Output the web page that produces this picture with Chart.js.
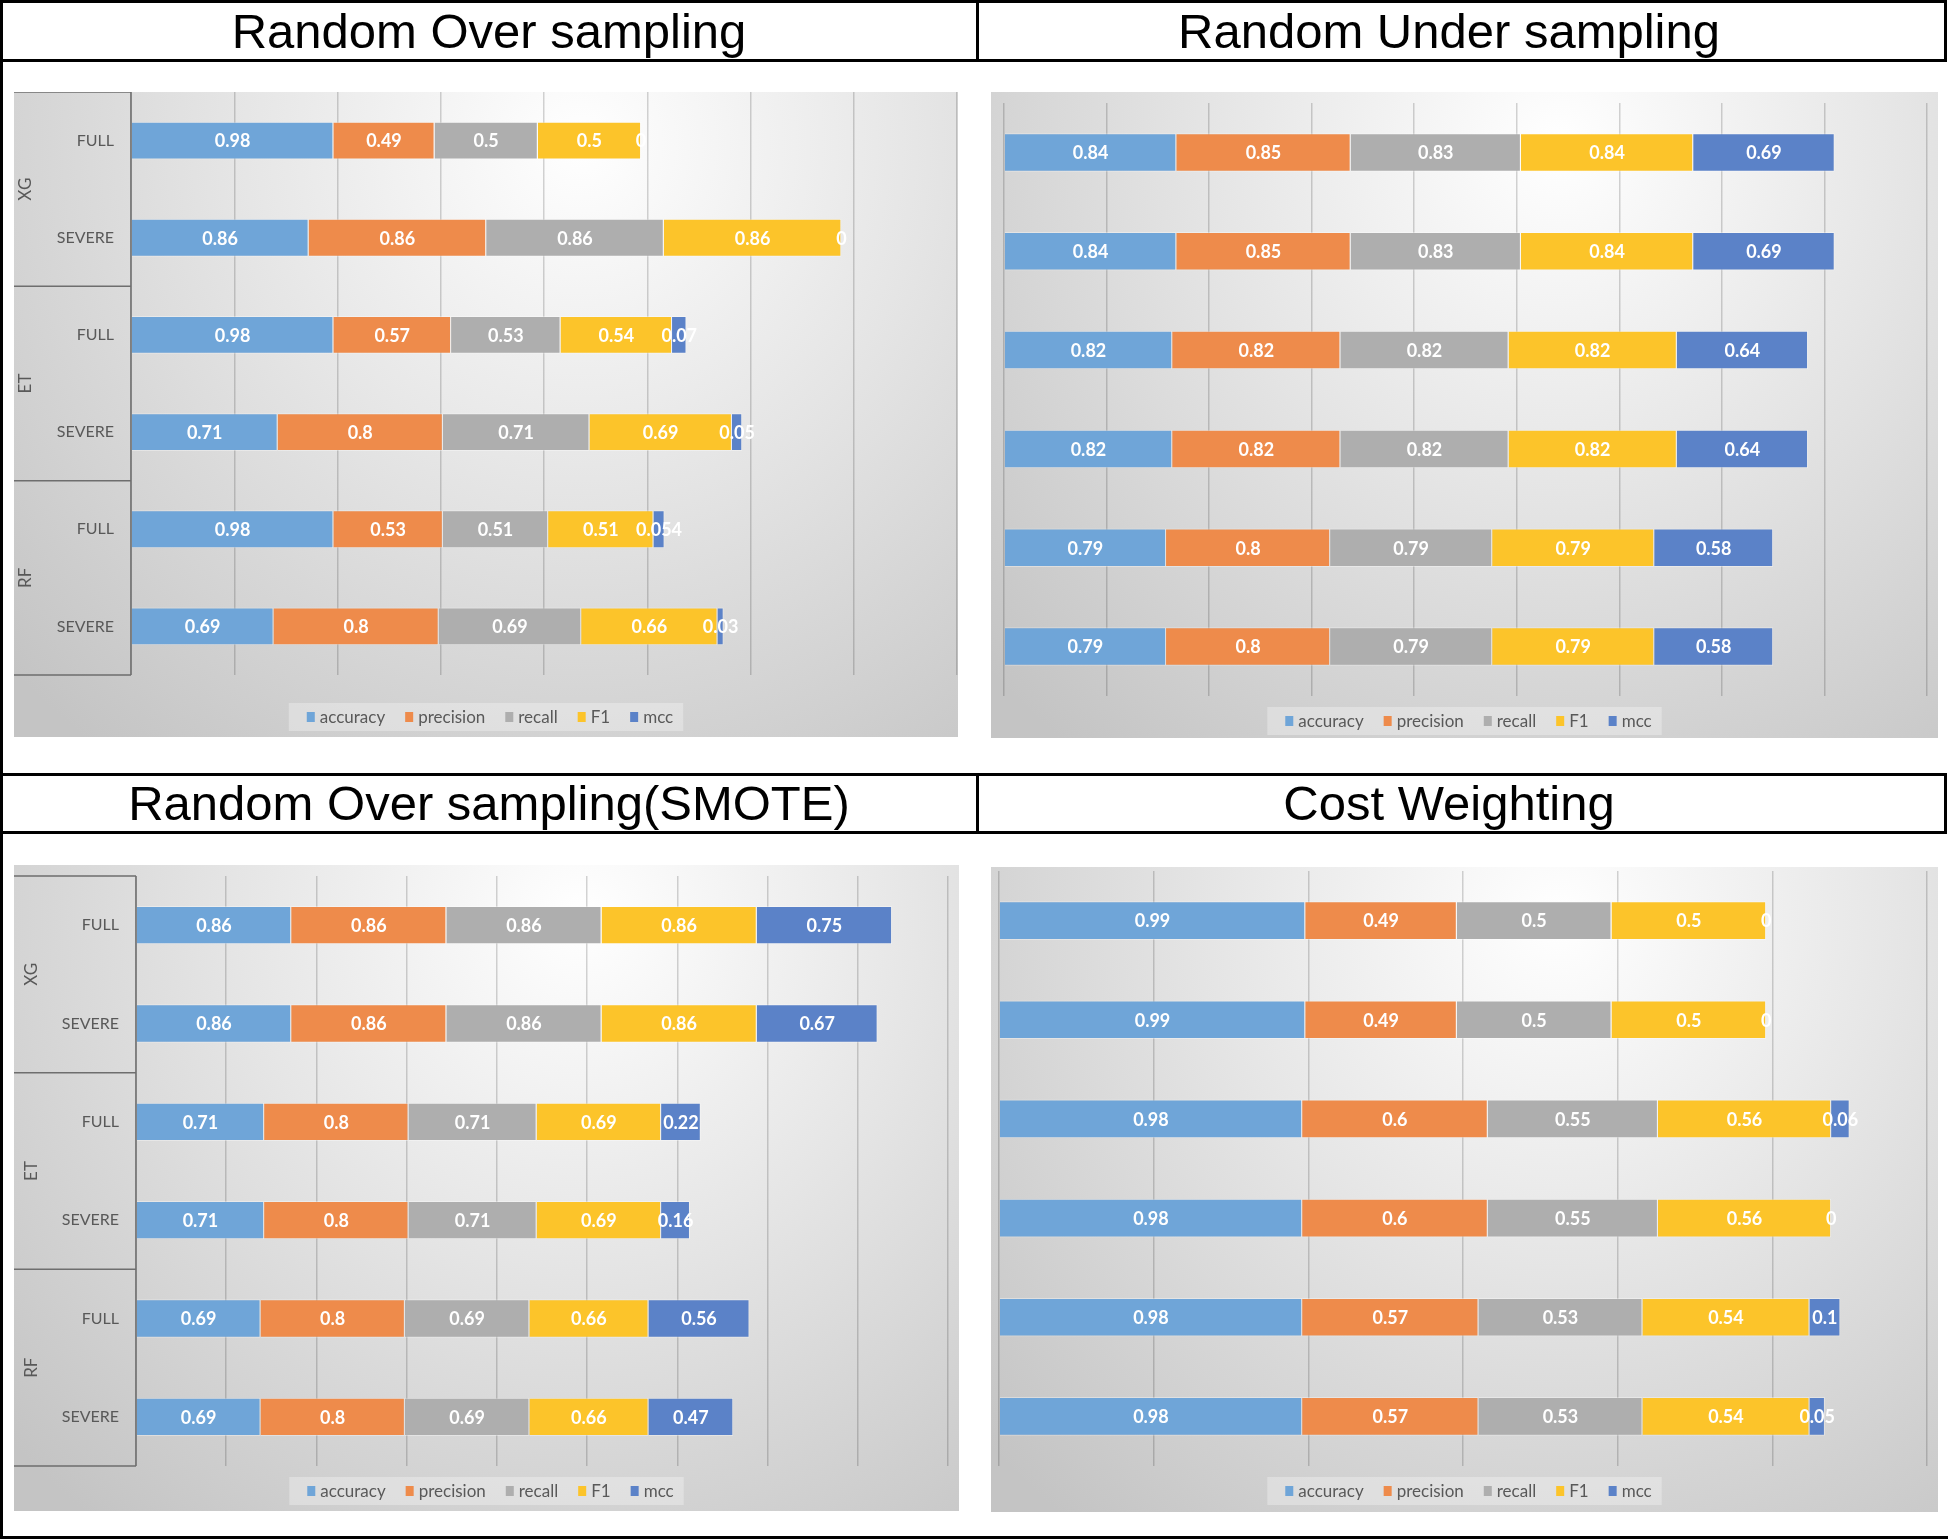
<!DOCTYPE html>
<html>
<head>
<meta charset="utf-8">
<title>Sampling comparison</title>
<script src="https://cdn.jsdelivr.net/npm/chart.js@4.4.0/dist/chart.umd.min.js"></script>
<style>
  html, body { margin: 0; padding: 0; background: #fff; }
  body { width: 1952px; height: 1540px; position: relative; overflow: hidden; }
  .line { position: absolute; background: #000; }
  .title { position: absolute; font-family: 'Liberation Sans', Arial, sans-serif; font-size: 49px;
           color: #000; text-align: center; white-space: nowrap; }
  canvas { position: absolute; }
</style>
</head>
<body>

<!-- table frame -->
<div class="line" style="left:0;top:0;width:1947px;height:3px"></div>
<div class="line" style="left:0;top:59px;width:1947px;height:3px"></div>
<div class="line" style="left:0;top:773px;width:1947px;height:3px"></div>
<div class="line" style="left:0;top:831px;width:1947px;height:3px"></div>
<div class="line" style="left:0;top:1536px;width:1948px;height:3px"></div>
<div class="line" style="left:0;top:0;width:3px;height:1539px"></div>
<div class="line" style="left:976px;top:0;width:3px;height:62px"></div>
<div class="line" style="left:976px;top:773px;width:3px;height:61px"></div>
<div class="line" style="left:1944px;top:0;width:3px;height:62px"></div>
<div class="line" style="left:1944px;top:773px;width:3px;height:61px"></div>

<div class="title" style="left:0;width:978px;top:2px;height:58px;line-height:58px">Random Over sampling</div>
<div class="title" style="left:977px;width:944px;top:2px;height:58px;line-height:58px">Random Under sampling</div>
<div class="title" style="left:0;width:978px;top:775px;height:57px;line-height:57px">Random Over sampling(SMOTE)</div>
<div class="title" style="left:977px;width:944px;top:775px;height:57px;line-height:57px">Cost Weighting</div>

<canvas id="overChart" width="944" height="645" style="left:14px;top:92px"></canvas>
<canvas id="underChart" width="947" height="646" style="left:991px;top:92px"></canvas>
<canvas id="smoteChart" width="945" height="646" style="left:14px;top:865px"></canvas>
<canvas id="costChart" width="947" height="645" style="left:991px;top:867px"></canvas>

<script>
// categories (top to bottom) and their model groups
const categories = ["FULL", "SEVERE", "FULL", "SEVERE", "FULL", "SEVERE"];
const groups = ["XG", "ET", "RF"];
const metrics = ["accuracy", "precision", "recall", "F1", "mcc"];

// Random Over sampling
const overAccuracy  = [0.98, 0.86, 0.98, 0.71, 0.98, 0.69];
const overPrecision = [0.49, 0.86, 0.57, 0.8, 0.53, 0.8];
const overRecall    = [0.5, 0.86, 0.53, 0.71, 0.51, 0.69];
const overF1        = [0.5, 0.86, 0.54, 0.69, 0.51, 0.66];
const overMcc       = [0, 0, 0.07, 0.05, 0.054, 0.03];

// Random Under sampling
const underAccuracy  = [0.84, 0.84, 0.82, 0.82, 0.79, 0.79];
const underPrecision = [0.85, 0.85, 0.82, 0.82, 0.8, 0.8];
const underRecall    = [0.83, 0.83, 0.82, 0.82, 0.79, 0.79];
const underF1        = [0.84, 0.84, 0.82, 0.82, 0.79, 0.79];
const underMcc       = [0.69, 0.69, 0.64, 0.64, 0.58, 0.58];

// Random Over sampling (SMOTE)
const smoteAccuracy  = [0.86, 0.86, 0.71, 0.71, 0.69, 0.69];
const smotePrecision = [0.86, 0.86, 0.8, 0.8, 0.8, 0.8];
const smoteRecall    = [0.86, 0.86, 0.71, 0.71, 0.69, 0.69];
const smoteF1        = [0.86, 0.86, 0.69, 0.69, 0.66, 0.66];
const smoteMcc       = [0.75, 0.67, 0.22, 0.16, 0.56, 0.47];

// Cost Weighting
const costAccuracy  = [0.99, 0.99, 0.98, 0.98, 0.98, 0.98];
const costPrecision = [0.49, 0.49, 0.6, 0.6, 0.57, 0.57];
const costRecall    = [0.5, 0.5, 0.55, 0.55, 0.53, 0.53];
const costF1        = [0.5, 0.5, 0.56, 0.56, 0.54, 0.54];
const costMcc       = [0, 0, 0.06, 0, 0.1, 0.05];

const colors = ["#6FA5D8", "#EE8B4B", "#AEAEAE", "#FCC42A", "#5B82C8"];

// background, value labels, grouped category frame and legend
const panelDecor = {
  id: "panelDecor",
  beforeDraw(chart) {
    const { ctx, width, height } = chart;
    const cx = width * 0.6, cy = height * 0.08;
    const g = ctx.createRadialGradient(cx, cy, 0, cx, cy, width * 0.82);
    g.addColorStop(0, "#ffffff");
    g.addColorStop(0.45, "#e5e5e5");
    g.addColorStop(1, "#c4c4c4");
    ctx.save();
    ctx.fillStyle = g;
    ctx.fillRect(0, 0, width, height);
    ctx.restore();
  },
  afterDatasetsDraw(chart) {
    const ctx = chart.ctx;
    ctx.save();
    ctx.font = "bold 18px Lato";
    ctx.fillStyle = "#ffffff";
    ctx.textAlign = "center";
    ctx.textBaseline = "middle";
    chart.data.datasets.forEach((ds, i) => {
      chart.getDatasetMeta(i).data.forEach((bar, j) => {
        ctx.fillText(String(ds.data[j]), (bar.x + bar.base) / 2, bar.y + 1);
      });
    });
    ctx.restore();
  },
  afterDraw(chart, args, opts) {
    const { ctx, width } = chart;
    const { left, top, bottom } = chart.chartArea;
    const y = chart.scales.y;
    ctx.save();

    if (opts.groupX) {
      ctx.strokeStyle = "#6e6e6e";
      ctx.lineWidth = 1.5;
      ctx.beginPath();
      ctx.moveTo(left, top);
      ctx.lineTo(left, bottom);
      const per = categories.length / groups.length;
      for (let k = 0; k <= groups.length; k++) {
        let yy;
        if (k === 0) yy = top;
        else if (k === groups.length) yy = bottom;
        else yy = (y.getPixelForValue(k * per - 1) + y.getPixelForValue(k * per)) / 2;
        ctx.moveTo(0, yy);
        ctx.lineTo(left, yy);
      }
      ctx.stroke();

      ctx.font = "17px Lato";
      ctx.fillStyle = "#595959";
      ctx.textAlign = "center";
      ctx.textBaseline = "middle";
      groups.forEach((name, k) => {
        const yc = (y.getPixelForValue(k * per) + y.getPixelForValue(k * per + per - 1)) / 2;
        ctx.save();
        ctx.translate(opts.groupX, yc);
        ctx.rotate(-Math.PI / 2);
        ctx.fillText(name, 0, 0);
        ctx.restore();
      });
    }

    // legend
    ctx.font = "17px Lato";
    const items = chart.data.datasets.map(ds => ({
      label: ds.label, color: ds.backgroundColor, w: ctx.measureText(ds.label).width
    }));
    const boxW = 8, gap = 5, itemGap = 20, padL = 18, padR = 10, bh = 28;
    const total = items.reduce((s, it) => s + boxW + gap + it.w, 0) + itemGap * (items.length - 1);
    const bw = total + padL + padR;
    const bx = (width - bw) / 2, ly = opts.legendY;
    ctx.fillStyle = "rgba(255,255,255,0.3)";
    ctx.fillRect(bx, ly - bh / 2, bw, bh);
    let x = bx + padL;
    ctx.textAlign = "left";
    ctx.textBaseline = "middle";
    items.forEach(it => {
      ctx.fillStyle = it.color;
      ctx.fillRect(x, ly - 5, boxW, 10);
      x += boxW + gap;
      ctx.fillStyle = "#595959";
      ctx.fillText(it.label, x, ly + 1);
      x += it.w + itemGap;
    });
    ctx.restore();
  }
};

function drawPanel(id, series, max, axisWidth, pad, showLabels, groupX, legendY) {
  return new Chart(document.getElementById(id), {
    type: "bar",
    data: {
      labels: categories,
      datasets: metrics.map((m, i) => ({
        label: m,
        data: series[i],
        backgroundColor: colors[i],
        borderColor: "rgba(255,255,255,0.35)",
        borderWidth: 1,
        barPercentage: 0.39,
        categoryPercentage: 1
      }))
    },
    options: {
      indexAxis: "y",
      responsive: false,
      animation: false,
      devicePixelRatio: 1,
      layout: { padding: { left: 0, top: pad[0], right: pad[1], bottom: pad[2] } },
      plugins: {
        legend: { display: false },
        tooltip: { enabled: false },
        panelDecor: { groupX: groupX, legendY: legendY }
      },
      scales: {
        x: {
          stacked: true, min: 0, max: max,
          ticks: { display: false, stepSize: 0.5 },
          grid: { color: "rgba(0,0,0,0.17)", lineWidth: 1.5, drawTicks: false },
          border: { display: false },
          afterFit: s => { s.height = 0; }
        },
        y: {
          stacked: true,
          ticks: { display: showLabels, color: "#595959", font: { family: "Lato", size: 16 }, padding: 17 },
          grid: { display: false, drawTicks: false },
          border: { display: false },
          afterFit: s => { s.width = axisWidth; s.paddingTop = 0; s.paddingBottom = 0; }
        }
      }
    },
    plugins: [panelDecor]
  });
}

drawPanel("overChart", [overAccuracy, overPrecision, overRecall, overF1, overMcc],
  4, 117, [0, 1, 62], true, 12, 625);
drawPanel("underChart", [underAccuracy, underPrecision, underRecall, underF1, underMcc],
  4.5, 13, [11, 11, 42], false, 0, 629);
drawPanel("smoteChart", [smoteAccuracy, smotePrecision, smoteRecall, smoteF1, smoteMcc],
  4.5, 122, [11, 11, 45], true, 18, 626);
drawPanel("costChart", [costAccuracy, costPrecision, costRecall, costF1, costMcc],
  3, 8, [4, 11, 46], false, 0, 624);
</script>
</body>
</html>
